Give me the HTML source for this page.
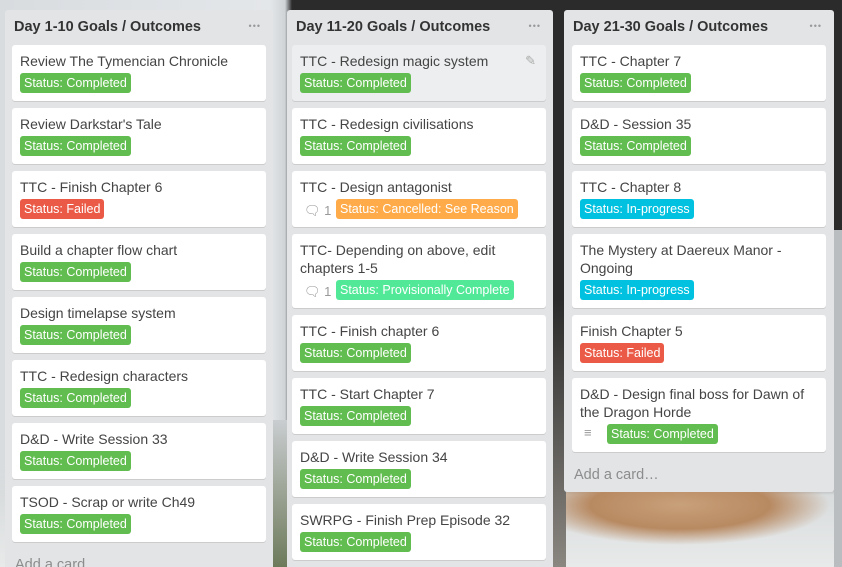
<!DOCTYPE html>
<html><head><meta charset="utf-8"><style>
*{box-sizing:border-box;margin:0;padding:0}
html,body{width:842px;height:567px;overflow:hidden}
body{position:relative;font-family:"Liberation Sans",Arial,sans-serif;
background:
radial-gradient(ellipse 150px 40px at 680px 505px,#c8a07a 0,#b88a62 60%,rgba(0,0,0,0) 100%),
linear-gradient(180deg,rgba(0,0,0,0) 0,rgba(0,0,0,0) 470px,#d9dcdd 495px,#e8eaea 567px),
linear-gradient(90deg,#d8dcdf 0,#e4e7ea 270px,#cfd3d6 285px,#2b2b2b 292px,#2b2b2b 842px);}
.bgr{position:absolute;left:834px;top:230px;width:8px;height:337px;background:#b9bdbf}
.bgm{position:absolute;left:553px;top:300px;width:13px;height:267px;background:linear-gradient(180deg,#2b2b2b,#8a8680)}
.bgl{position:absolute;left:273px;top:420px;width:14px;height:147px;background:linear-gradient(180deg,#c9cdd0,#6d7a5a)}
.list{position:absolute;background:#e2e4e6;border-radius:3px}
.h{position:absolute;left:9px;top:9px;font-weight:bold;font-size:14.5px;color:#333}
.dots{position:absolute;right:12px;top:11px;color:#999;font-size:9px;letter-spacing:1px}
.card{position:absolute;background:#fff;border-radius:3px;box-shadow:0 1px 0 #ccc;padding:7px 8px 0 8px;color:#444;font-size:14px;line-height:18px}
.lab{display:inline-block;margin-top:3px;height:20px;line-height:20px;padding:0 4px;border-radius:3px;color:#fff;font-size:12.5px}
.g{background:#61bd4f}.r{background:#eb5a46}.o{background:#ffab4a}.b{background:#00c2e0}.m{background:#51e898}
.ic{display:inline-block;color:#999;font-size:13px;width:36px;padding-left:4px;vertical-align:top;margin-top:6px}
.add{position:absolute;left:10px;color:#8c8c8c;font-size:14.5px}
</style></head><body>
<div class="bgr"></div><div class="bgm"></div><div class="bgl"></div>

<div class="list" style="left:5px;top:10px;width:268px;height:570px">
<div class="h">Day 1-10 Goals / Outcomes</div><div class="dots">•••</div>
<div class="card" style="left:7px;top:35px;width:254px;height:56px">Review The Tymencian Chronicle<br><span class="lab g">Status: Completed</span></div>
<div class="card" style="left:7px;top:98px;width:254px;height:56px">Review Darkstar's Tale<br><span class="lab g">Status: Completed</span></div>
<div class="card" style="left:7px;top:161px;width:254px;height:56px">TTC - Finish Chapter 6<br><span class="lab r">Status: Failed</span></div>
<div class="card" style="left:7px;top:224px;width:254px;height:56px">Build a chapter flow chart<br><span class="lab g">Status: Completed</span></div>
<div class="card" style="left:7px;top:287px;width:254px;height:56px">Design timelapse system<br><span class="lab g">Status: Completed</span></div>
<div class="card" style="left:7px;top:350px;width:254px;height:56px">TTC - Redesign characters<br><span class="lab g">Status: Completed</span></div>
<div class="card" style="left:7px;top:413px;width:254px;height:56px">D&amp;D - Write Session 33<br><span class="lab g">Status: Completed</span></div>
<div class="card" style="left:7px;top:476px;width:254px;height:56px">TSOD - Scrap or write Ch49<br><span class="lab g">Status: Completed</span></div>
<div class="add" style="top:547px">Add a card…</div>
</div>

<div class="list" style="left:287px;top:10px;width:266px;height:570px">
<div class="h">Day 11-20 Goals / Outcomes</div><div class="dots">•••</div>
<div class="card" style="left:5px;top:35px;width:254px;height:56px;background:#eceeef">TTC - Redesign magic system<span style="position:absolute;right:10px;top:7px;color:#aaa;font-size:13px">✎</span><br><span class="lab g">Status: Completed</span></div>
<div class="card" style="left:5px;top:98px;width:254px;height:56px">TTC - Redesign civilisations<br><span class="lab g">Status: Completed</span></div>
<div class="card" style="left:5px;top:161px;width:254px;height:56px">TTC - Design antagonist<br><span class="ic">🗨 1</span><span class="lab o">Status: Cancelled: See Reason</span></div>
<div class="card" style="left:5px;top:224px;width:254px;height:74px">TTC- Depending on above, edit chapters 1-5<br><span class="ic">🗨 1</span><span class="lab m">Status: Provisionally Complete</span></div>
<div class="card" style="left:5px;top:305px;width:254px;height:56px">TTC - Finish chapter 6<br><span class="lab g">Status: Completed</span></div>
<div class="card" style="left:5px;top:368px;width:254px;height:56px">TTC - Start Chapter 7<br><span class="lab g">Status: Completed</span></div>
<div class="card" style="left:5px;top:431px;width:254px;height:56px">D&amp;D - Write Session 34<br><span class="lab g">Status: Completed</span></div>
<div class="card" style="left:5px;top:494px;width:254px;height:56px">SWRPG - Finish Prep Episode 32<br><span class="lab g">Status: Completed</span></div>
</div>

<div class="list" style="left:564px;top:10px;width:270px;height:482px">
<div class="h">Day 21-30 Goals / Outcomes</div><div class="dots">•••</div>
<div class="card" style="left:8px;top:35px;width:254px;height:56px">TTC - Chapter 7<br><span class="lab g">Status: Completed</span></div>
<div class="card" style="left:8px;top:98px;width:254px;height:56px">D&amp;D - Session 35<br><span class="lab g">Status: Completed</span></div>
<div class="card" style="left:8px;top:161px;width:254px;height:56px">TTC - Chapter 8<br><span class="lab b">Status: In-progress</span></div>
<div class="card" style="left:8px;top:224px;width:254px;height:74px">The Mystery at Daereux Manor - Ongoing<br><span class="lab b">Status: In-progress</span></div>
<div class="card" style="left:8px;top:305px;width:254px;height:56px">Finish Chapter 5<br><span class="lab r">Status: Failed</span></div>
<div class="card" style="left:8px;top:368px;width:254px;height:74px">D&amp;D - Design final boss for Dawn of the Dragon Horde<br><span class="ic" style="width:27px;margin-top:3px">≡</span><span class="lab g">Status: Completed</span></div>
<div class="add" style="top:457px">Add a card…</div>
</div>
</body></html>
